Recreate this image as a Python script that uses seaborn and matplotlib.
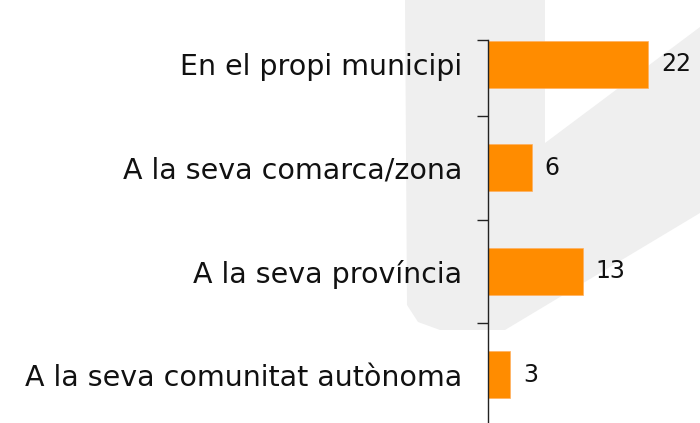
import matplotlib
matplotlib.use("Agg")
import matplotlib.pyplot as plt
import seaborn as sns
import pandas as pd
from matplotlib.patches import Polygon

categories = ["En el propi municipi", "A la seva comarca/zona",
              "A la seva província", "A la seva comunitat autònoma"]
values = [22, 6, 13, 3]

df = pd.DataFrame({"cat": categories, "val": values})

sns.set_theme(style="white")
plt.rcParams['font.family'] = ['DejaVu Sans']

W, H = 700, 423
fig = plt.figure(figsize=(W / 100, H / 100), dpi=100)
fig.patch.set_facecolor("white")

# light background watermark
pts = [(405, 0), (545, 0), (545, 143), (700, 27), (700, 213), (505, 330),
       (440, 330), (418, 322), (407, 305)]
poly = Polygon([(x / W, 1 - y / H) for x, y in pts], closed=True,
               transform=fig.transFigure, facecolor="#EFEFEF", edgecolor="none",
               zorder=-10)
fig.patches.append(poly)

ax = fig.add_axes([488 / W, 0, 212 / W, 1])
ax.set_facecolor("none")
ax.set_zorder(1)

sns.barplot(data=df, y="cat", x="val", orient="h", color="#FF8C00",
            width=0.45, saturation=1, ax=ax, edgecolor="#FFB060", linewidth=0.5)

ax.set_xlim(0, 212 / 7.27)
ax.set_ylim(3.466, -0.621)

for s in ["top", "right", "bottom"]:
    ax.spines[s].set_visible(False)
ax.spines["left"].set_color("#222222")
ax.spines["left"].set_linewidth(1.0)
ax.spines["left"].set_bounds(-0.234, 3.466)

ax.set_xticks([])
ax.set_yticks(range(len(categories)))
ax.set_yticklabels(categories, fontsize=20.5, color="#111111")
ax.tick_params(axis="y", which="major", length=0, pad=18.5)
ax.set_yticks([-0.234, 0.5, 1.5, 2.5], minor=True)
ax.tick_params(axis="y", which="minor", length=8, width=1, color="#222222",
               direction="out", left=True)
ax.set_xlabel("")
ax.set_ylabel("")

for i, v in enumerate(values):
    ax.annotate(str(v), xy=(v, i), xytext=(13, 0), textcoords="offset pixels",
                va="center", ha="left", fontsize=17, color="#111111")

fig.savefig("out.png", dpi=100)
